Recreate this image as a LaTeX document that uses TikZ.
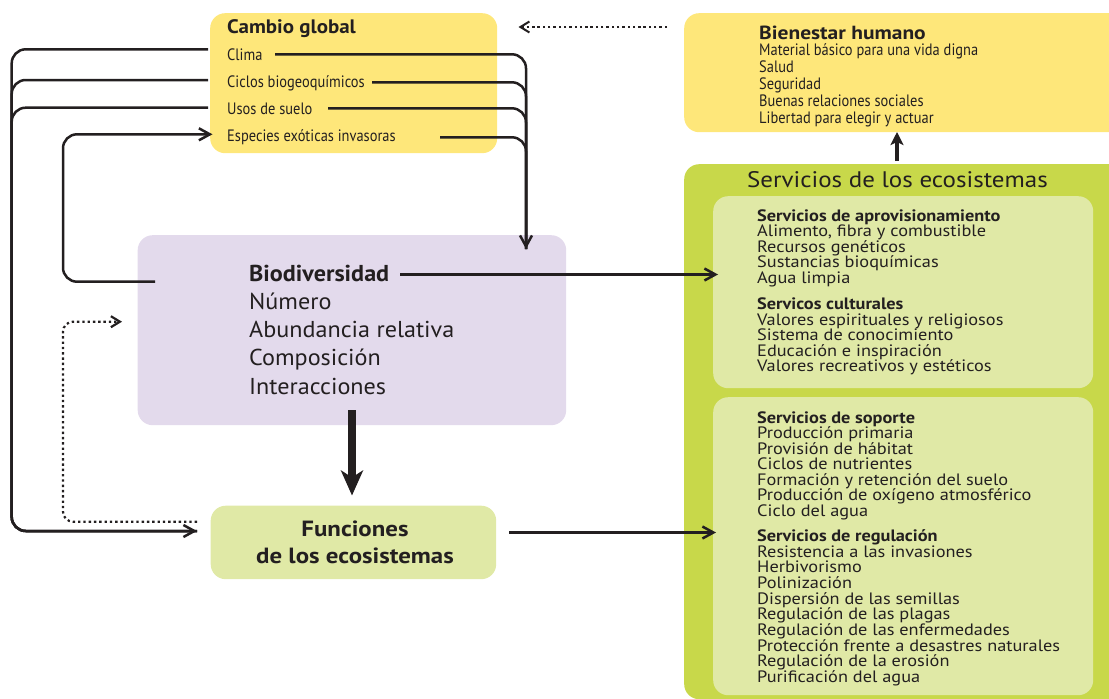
\documentclass[tikz,border=0pt]{standalone}
\usepackage{fontspec}
\setmainfont{PT Sans}
\newfontfamily\condfont[FakeStretch=0.875]{PT Sans}
\newfontfamily\fsA[FakeStretch=1.11]{PT Sans}
\newfontfamily\fsB[FakeStretch=1.05]{PT Sans}
\newfontfamily\fsC[FakeStretch=1.13]{PT Sans}
\newfontfamily\fsD[FakeStretch=1.075]{PT Sans}
\usetikzlibrary{arrows.meta}
\definecolor{ink}{RGB}{35,31,32}
\definecolor{yel}{RGB}{254,231,122}
\definecolor{lav}{RGB}{227,218,236}
\definecolor{grn}{RGB}{200,216,74}
\definecolor{lgrn}{RGB}{224,233,166}
\begin{document}
\begin{tikzpicture}[x=1pt,y=-1pt,
  panel/.style={draw=none, rounded corners=15pt, inner sep=0pt, anchor=north west},
  txt/.style={inner sep=0pt, anchor=base west, text=ink},
  cgtitle/.style={txt, font=\fsD\fontsize{19.5}{20}\selectfont\bfseries},
  cgitem/.style={txt, font=\condfont\fontsize{16.5}{17}\selectfont},
  bhtitle/.style={txt, font=\fsC\fontsize{19}{20}\selectfont\bfseries},
  bhitem/.style={txt, font=\condfont\fontsize{16.5}{17}\selectfont},
  svtitle/.style={txt, font=\fsA\fontsize{22.5}{23}\selectfont},
  svhead/.style={txt, font=\fsA\fontsize{16.5}{16}\selectfont\bfseries},
  svitem/.style={txt, font=\fsA\fontsize{16.5}{16}\selectfont},
  bdhead/.style={txt, font=\fsB\fontsize{23}{24}\selectfont\bfseries},
  bditem/.style={txt, font=\fsB\fontsize{23}{24}\selectfont},
  fntext/.style={inner sep=0pt, anchor=base, text=ink, font=\fsC\fontsize{22}{23}\selectfont\bfseries},
  conn/.style={draw=ink, line width=2.5pt, rounded corners=14pt},
  tip/.style={-{Straight Barb[length=11pt,width=12pt]}},
  dots/.style={draw=ink, line width=2.2pt, dash pattern=on 2.4pt off 2.9pt, rounded corners=10pt},
  dtip/.style={-{Straight Barb[length=9pt,width=11pt]}}
]
\useasboundingbox (0,0) rectangle (1109,699);

% panels
\node[panel, fill=yel, minimum width=287pt, minimum height=140pt] (cg) at (210,13) {};
\node[panel, fill=yel, minimum width=441pt, minimum height=119pt] (bh) at (684,13) {};
\node[panel, fill=grn, minimum width=441pt, minimum height=535pt] (sv) at (684,164) {};
\node[panel, fill=lgrn, minimum width=380pt, minimum height=192pt] (sv1) at (713,196) {};
\node[panel, fill=lgrn, minimum width=380pt, minimum height=298pt] (sv2) at (713,397) {};
\node[panel, fill=lav, minimum width=428.5pt, minimum height=190pt] (bd) at (137.5,235) {};
\node[panel, fill=lgrn, minimum width=285.5pt, minimum height=73.5pt] (fn) at (210.5,505.5) {};

% Cambio global
\node[cgtitle] (cgt) at (227,33) {Cambio global};
\foreach \t [count=\i from 0] in {Clima, Ciclos biogeoquímicos, Usos de suelo, Especies exóticas invasoras}
  \node[cgitem] (cgi\i) at (227,60+27.2*\i) {\t};

% Bienestar humano
\node[bhtitle] (bht) at (759,39) {Bienestar humano};
\foreach \t [count=\i from 0] in {Material básico para una vida digna, Salud, Seguridad, Buenas relaciones sociales, Libertad para elegir y actuar}
  \node[bhitem] (bhi\i) at (759,55.5+17*\i) {\t};

% Servicios
\node[svtitle] (svt) at (747,187) {Servicios de los ecosistemas};
\node[svhead] (pah) at (757,221) {Servicios de aprovisionamiento};
\foreach \t [count=\i from 0] in {{Alimento, fibra y combustible}, Recursos genéticos, Sustancias bioquímicas, Agua limpia}
  \node[svitem] (pai\i) at (757,236.7+15.5*\i) {\t};
\node[svhead] (cuh) at (757,309) {Servicos culturales};
\foreach \t [count=\i from 0] in {Valores espirituales y religiosos, Sistema de conocimiento, Educación e inspiración, Valores recreativos y estéticos}
  \node[svitem] (cui\i) at (757,325+15.6*\i) {\t};
\node[svhead] (soh) at (757,423.3) {Servicios de soporte};
\foreach \t [count=\i from 0] in {Producción primaria, Provisión de hábitat, Ciclos de nutrientes, Formación y retención del suelo, Producción de oxígeno atmosférico, Ciclo del agua}
  \node[svitem] (soi\i) at (757,438.5+15.6*\i) {\t};
\node[svhead] (reh) at (757,541.7) {Servicios de regulación};
\foreach \t [count=\i from 0] in {Resistencia a las invasiones, Herbivorismo, Polinización, Dispersión de las semillas, Regulación de las plagas, Regulación de las enfermedades, Protección frente a desastres naturales, Regulación de la erosión, Purificación del agua}
  \node[svitem] (rei\i) at (757,557.3+15.65*\i) {\t};

% Biodiversidad
\node[bdhead] (bdt) at (249,281.7) {Biodiversidad};
\foreach \t [count=\i from 0] in {Número, Abundancia relativa, Composición, Interacciones}
  \node[bditem] (bdi\i) at (249,309.5+28.2*\i) {\t};

% Funciones
\node[fntext] (fn1) at (355,536) {Funciones};
\node[fntext] (fn2) at (355,563.3) {de los ecosistemas};

% connector end points
\coordinate (cr0) at (275,54.3);
\coordinate (cr1) at (372,82.3);
\coordinate (cr2) at (328,108.3);
\coordinate (cr3) at (440,137.3);
\coordinate (bdtop) at (526,249);
\coordinate (cl0) at (208,49.3);
\coordinate (cl1) at (208,80);
\coordinate (cl2) at (208,107.7);
\coordinate (lv) at (11.7,0);
\coordinate (fnin) at (197,531);
\coordinate (bdl) at (155,281.7);
\coordinate (esin) at (212.5,134.3);
\coordinate (ev) at (63,0);
\coordinate (fnl) at (197,521.7);
\coordinate (bdin) at (122,321.7);
\coordinate (bdr) at (400,274.5);
\coordinate (sv1in) at (718,274.5);
\coordinate (fnr) at (509,532.5);
\coordinate (sv2in) at (716,532.5);
\coordinate (svtop) at (897,161);
\coordinate (bhbot) at (897,132);
\coordinate (bhl) at (667,27);
\coordinate (cgr) at (518.5,27);
\coordinate (bdb) at (352,410);
\coordinate (fnt) at (352,495.5);

% right-hand lines into Biodiversidad
\foreach \k in {1,2,3} \draw[conn] (cr\k) -| (bdtop);
\draw[conn, tip] (cr0) -| (bdtop);

% left-hand lines into Funciones
\foreach \k in {0,1} \draw[conn] (cl\k) -| (lv |- fnin) -- (fnin);
\draw[conn, tip] (cl2) -| (lv |- fnin) -- (fnin);

% Biodiversidad back to Especies
\draw[conn, tip] (bdl) -| (ev |- esin) -- (esin);

% dotted feedback Funciones -> Biodiversidad
\draw[dots, dtip] (fnl) -| (ev |- bdin) -- (bdin);

% to services
\draw[conn, tip] (bdr) -- (sv1in);
\draw[conn, tip] (fnr) -- (sv2in);

% services -> bienestar
\draw[draw=ink, line width=3.6pt, -{Stealth[length=13pt,width=13pt,inset=3pt]}] (svtop) -- (bhbot);

% bienestar -> cambio (dotted)
\draw[dots, line width=2pt, dtip] (bhl) -- (cgr);

% biodiversidad -> funciones (thick)
\draw[draw=ink, line width=7.7pt, -{Stealth[length=25pt,width=22pt,inset=7pt]}] (bdb) -- (fnt);
\end{tikzpicture}
\end{document}
